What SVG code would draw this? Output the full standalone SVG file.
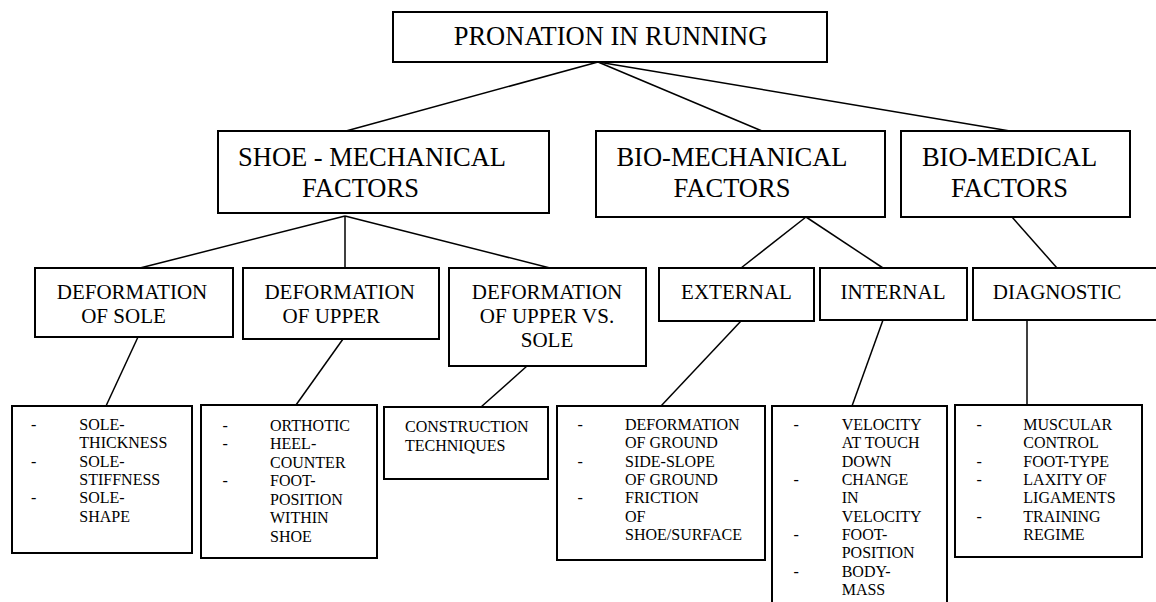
<svg xmlns="http://www.w3.org/2000/svg" width="1156" height="602" viewBox="0 0 1156 602" font-family="'Liberation Serif', 'Times New Roman', 'DejaVu Serif', serif">
<style>
rect.box{fill:#fff;stroke:#000;stroke-width:2}
#connectors line{stroke:#000;stroke-width:1.5}
text{font-family:'Liberation Serif','Times New Roman','DejaVu Serif',serif;fill:#000}
.l1{font-size:26.5px;text-anchor:middle}
.l3{font-size:21px;text-anchor:middle}
.l4{font-size:16px}
</style>
<rect width="1156" height="602" fill="#fff"/>
<g id="connectors">
<line x1="598" y1="62" x2="346" y2="131"/>
<line x1="598" y1="62" x2="762" y2="131"/>
<line x1="598" y1="62" x2="1010" y2="131"/>
<line x1="345" y1="216" x2="140" y2="268"/>
<line x1="345" y1="216" x2="345" y2="268"/>
<line x1="345" y1="216" x2="550" y2="268"/>
<line x1="806" y1="217" x2="741" y2="268"/>
<line x1="806" y1="217" x2="883" y2="268"/>
<line x1="1012" y1="217" x2="1057" y2="268"/>
<line x1="138" y1="337" x2="106" y2="406"/>
<line x1="343" y1="339" x2="296" y2="405"/>
<line x1="527" y1="366" x2="481" y2="407"/>
<line x1="741" y1="321" x2="661" y2="406"/>
<line x1="883" y1="320" x2="852" y2="406"/>
<line x1="1027" y1="320" x2="1027" y2="405"/>
</g>
<g id="n-root">
<rect class="box" x="393" y="12" width="434" height="50"/>
<text class="l1" x="610.5" y="45">PRONATION IN RUNNING</text>
</g>
<g id="n-shoe">
<rect class="box" x="218" y="131" width="331" height="82"/>
<text class="l1" x="372" y="166">SHOE - MECHANICAL</text>
<text class="l1" x="360.5" y="197">FACTORS</text>
</g>
<g id="n-biomech">
<rect class="box" x="596" y="131" width="289" height="86"/>
<text class="l1" x="732" y="166">BIO-MECHANICAL</text>
<text class="l1" x="732" y="197">FACTORS</text>
</g>
<g id="n-biomed">
<rect class="box" x="901" y="131" width="229" height="86"/>
<text class="l1" x="1009.5" y="166">BIO-MEDICAL</text>
<text class="l1" x="1009.5" y="197">FACTORS</text>
</g>
<g id="n-defsole">
<rect class="box" x="35" y="268" width="198" height="69"/>
<text class="l3" x="132" y="299">DEFORMATION</text>
<text class="l3" x="123.5" y="323">OF SOLE</text>
</g>
<g id="n-defupper">
<rect class="box" x="243" y="268" width="196" height="71"/>
<text class="l3" x="339.7" y="299">DEFORMATION</text>
<text class="l3" x="331.3" y="323">OF UPPER</text>
</g>
<g id="n-defuppersole">
<rect class="box" x="449" y="268" width="197" height="98"/>
<text class="l3" x="547" y="299">DEFORMATION</text>
<text class="l3" x="547" y="323">OF UPPER VS.</text>
<text class="l3" x="547" y="347">SOLE</text>
</g>
<g id="n-external">
<rect class="box" x="659" y="268" width="155" height="53"/>
<text class="l3" x="736.5" y="299">EXTERNAL</text>
</g>
<g id="n-internal">
<rect class="box" x="820" y="268" width="147" height="52"/>
<text class="l3" x="893" y="299">INTERNAL</text>
</g>
<g id="n-diagnostic">
<rect class="box" x="973" y="268" width="186" height="52"/>
<text class="l3" x="1057" y="299">DIAGNOSTIC</text>
</g>
<g id="n-sole-list">
<rect class="box" x="12" y="406" width="180" height="147"/>
<text class="l4" x="31" y="430">-</text>
<text class="l4" x="79.3" y="430">SOLE-</text>
<text class="l4" x="79.3" y="448.3">THICKNESS</text>
<text class="l4" x="31" y="466.7">-</text>
<text class="l4" x="79.3" y="466.7">SOLE-</text>
<text class="l4" x="79.3" y="485">STIFFNESS</text>
<text class="l4" x="31" y="503.3">-</text>
<text class="l4" x="79.3" y="503.3">SOLE-</text>
<text class="l4" x="79.3" y="521.7">SHAPE</text>
</g>
<g id="n-upper-list">
<rect class="box" x="201" y="405" width="176" height="153"/>
<text class="l4" x="222.5" y="430.7">-</text>
<text class="l4" x="270" y="430.7">ORTHOTIC</text>
<text class="l4" x="222.5" y="449">-</text>
<text class="l4" x="270" y="449">HEEL-</text>
<text class="l4" x="270" y="467.7">COUNTER</text>
<text class="l4" x="222.5" y="486">-</text>
<text class="l4" x="270" y="486">FOOT-</text>
<text class="l4" x="270" y="504.7">POSITION</text>
<text class="l4" x="270" y="523">WITHIN</text>
<text class="l4" x="270" y="541.7">SHOE</text>
</g>
<g id="n-construction">
<rect class="box" x="384" y="407" width="164" height="72"/>
<text class="l4" x="405" y="432.3">CONSTRUCTION</text>
<text class="l4" x="405" y="451">TECHNIQUES</text>
</g>
<g id="n-external-list">
<rect class="box" x="557" y="406" width="208" height="154"/>
<text class="l4" x="577.5" y="430">-</text>
<text class="l4" x="625" y="430">DEFORMATION</text>
<text class="l4" x="625" y="448.3">OF GROUND</text>
<text class="l4" x="577.5" y="466.7">-</text>
<text class="l4" x="625" y="466.7">SIDE-SLOPE</text>
<text class="l4" x="625" y="485">OF GROUND</text>
<text class="l4" x="577.5" y="503.3">-</text>
<text class="l4" x="625" y="503.3">FRICTION</text>
<text class="l4" x="625" y="521.7">OF</text>
<text class="l4" x="625" y="540">SHOE/SURFACE</text>
</g>
<g id="n-internal-list">
<rect class="box" x="772" y="406" width="175" height="210"/>
<text class="l4" x="793.5" y="430">-</text>
<text class="l4" x="841.7" y="430">VELOCITY</text>
<text class="l4" x="841.7" y="448.3">AT TOUCH</text>
<text class="l4" x="841.7" y="466.7">DOWN</text>
<text class="l4" x="793.5" y="485">-</text>
<text class="l4" x="841.7" y="485">CHANGE</text>
<text class="l4" x="841.7" y="503.3">IN</text>
<text class="l4" x="841.7" y="521.7">VELOCITY</text>
<text class="l4" x="793.5" y="540">-</text>
<text class="l4" x="841.7" y="540">FOOT-</text>
<text class="l4" x="841.7" y="558.3">POSITION</text>
<text class="l4" x="793.5" y="576.7">-</text>
<text class="l4" x="841.7" y="576.7">BODY-</text>
<text class="l4" x="841.7" y="595">MASS</text>
</g>
<g id="n-diagnostic-list">
<rect class="box" x="955" y="405" width="187" height="152"/>
<text class="l4" x="976.5" y="430">-</text>
<text class="l4" x="1023.3" y="430">MUSCULAR</text>
<text class="l4" x="1023.3" y="448.3">CONTROL</text>
<text class="l4" x="976.5" y="466.7">-</text>
<text class="l4" x="1023.3" y="466.7">FOOT-TYPE</text>
<text class="l4" x="976.5" y="485">-</text>
<text class="l4" x="1023.3" y="485">LAXITY OF</text>
<text class="l4" x="1023.3" y="503.3">LIGAMENTS</text>
<text class="l4" x="976.5" y="521.7">-</text>
<text class="l4" x="1023.3" y="521.7">TRAINING</text>
<text class="l4" x="1023.3" y="540">REGIME</text>
</g>
</svg>
